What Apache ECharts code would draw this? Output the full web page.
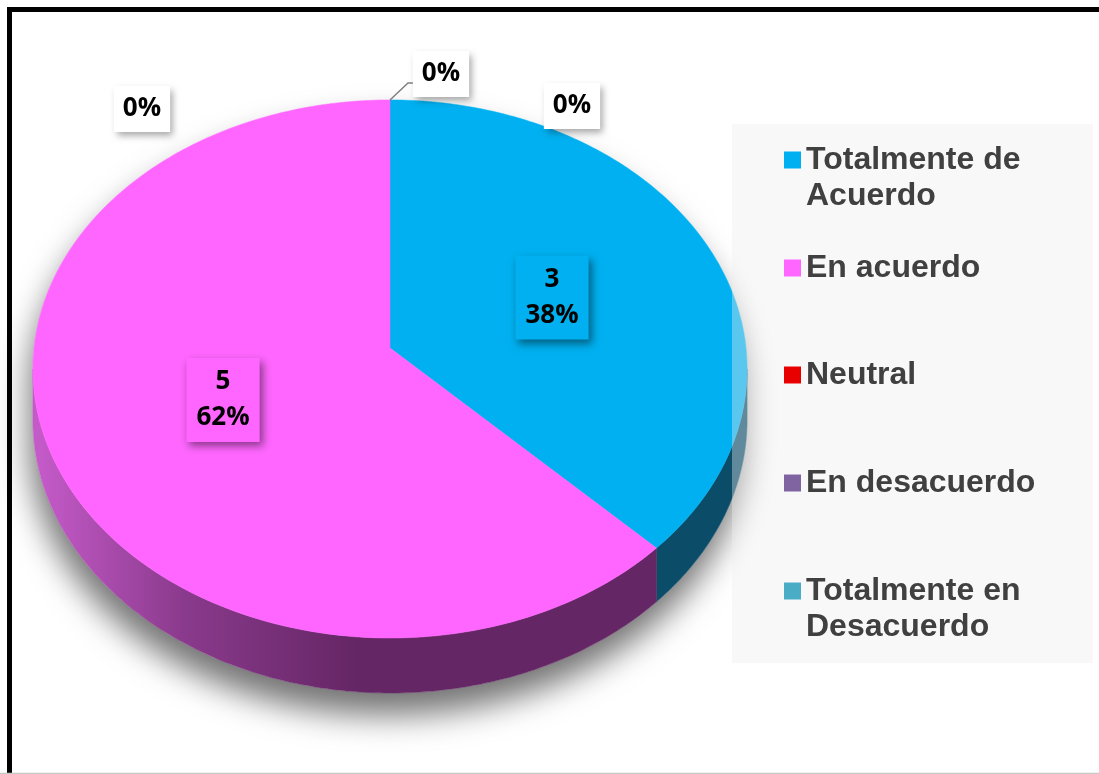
<!DOCTYPE html>
<html>
<head>
<meta charset="UTF-8">
<title></title>
<style>
  html, body { margin: 0; padding: 0; background: #fff; }
  #box { width: 1099px; height: 774px; }
</style>
</head>
<body>
<div id="box"></div>
<script src="https://cdn.jsdelivr.net/npm/echarts@6/dist/echarts.min.js"></script>
<script>
// data
const categories = ['Totalmente de Acuerdo', 'En acuerdo', 'Neutral', 'En desacuerdo', 'Totalmente en Desacuerdo'];
const counts = [3, 5, 0, 0, 0];
const legendLabels = ['Totalmente de\nAcuerdo', 'En acuerdo', 'Neutral', 'En desacuerdo', 'Totalmente en\nDesacuerdo'];

// styles
const topColors = ['#00b0f0', '#ff66ff', '#e80000', '#8064a2', '#4bacc6'];
const sideColors = [
  '#0b4c69',
  new echarts.graphic.LinearGradient(40, 0, 360, 0, [
    { offset: 0, color: '#c45ac8' },
    { offset: 0.45, color: '#8a3a8c' },
    { offset: 1, color: '#642664' }
  ], true),
  '#8a0000', '#4d3c62', '#2d6777'
];
const legendCenters = [160, 268, 375, 483, 591];
// where the 0% labels sit, relative to the point where their slice is
const zeroLabelOffsets = [null, null, [51, -26], [182, 6], [-248, 9]];

// pie projection (tilted disc, a bit of perspective)
const CX = 390, CY = 348, RX = 356, RY = 267.4, K = 0.078, DEPTH = 50.7;
const VIS0 = Math.acos(-K), VIS1 = 2 * Math.PI - VIS0;

function proj(theta, f, down) {
  const u = f * Math.sin(theta), v = -f * Math.cos(theta);
  const w = 1 - K * v;
  return [CX + RX * u / w, CY + (RY * v + (down ? DEPTH : 0)) / w];
}
function arc(a0, a1, down) {
  const pts = [];
  const n = Math.max(2, Math.ceil(Math.abs(a1 - a0) * 60));
  for (let s = 0; s <= n; s++) pts.push(proj(a0 + (a1 - a0) * s / n, 1, down));
  return pts;
}

const total = counts.reduce((a, b) => a + b, 0);

// percentages, largest remainder so they add to 100
const percents = (function () {
  const raw = counts.map(v => v / total * 100);
  const out = raw.map(Math.floor);
  let left = 100 - out.reduce((a, b) => a + b, 0);
  const order = raw.map((r, i) => [r - Math.floor(r), i]).sort((a, b) => b[0] - a[0]);
  for (let j = 0; j < left; j++) out[order[j][1]]++;
  return out;
})();

const labelFont = 'bold 26px "Open Sans"';

function makeRender(i) {
  return function (params, api) {
    const value = api.value(0);
    let before = 0;
    for (let j = 0; j < i; j++) before += counts[j];
    const a0 = before / total * 2 * Math.PI;
    const a1 = (before + value) / total * 2 * Math.PI;
    const children = [];

    if (i === 0) {
      const sil = arc(VIS1, 2 * Math.PI + VIS0, false).concat(arc(VIS0, VIS1, true));
      children.push({
        type: 'polygon', z2: 0,
        shape: { points: sil },
        style: { fill: '#fff', shadowBlur: 32, shadowOffsetY: 22, shadowOffsetX: -3, shadowColor: 'rgba(0,0,0,0.55)' }
      });
    }

    if (value > 0) {
      const s0 = Math.max(a0, VIS0), s1 = Math.min(a1, VIS1);
      if (s1 > s0) {
        children.push({
          type: 'polygon', z2: 1,
          shape: { points: arc(s0, s1, false).concat(arc(s0, s1, true).reverse()) },
          style: { fill: sideColors[i], stroke: sideColors[i], lineWidth: 0.5 }
        });
      }
      children.push({
        type: 'polygon', z2: 2,
        shape: { points: [[CX, CY]].concat(arc(a0, a1, false)) },
        style: { fill: topColors[i], stroke: topColors[i], lineWidth: 0.5 }
      });
      const p = proj((a0 + a1) / 2, 0.5, false);
      children.push({
        type: 'text', z2: 10, x: p[0], y: p[1],
        style: {
          text: value + '\n' + percents[i] + '%',
          font: labelFont, fill: '#000', align: 'center', verticalAlign: 'middle',
          lineHeight: 36, backgroundColor: topColors[i], padding: [6, 10, 6, 10],
          shadowColor: 'rgba(0,0,0,0.45)', shadowBlur: 8, shadowOffsetX: 3, shadowOffsetY: 4
        }
      });
    } else {
      const base = proj(a0, 1, false);
      const off = zeroLabelOffsets[i];
      const lx = base[0] + off[0], ly = base[1] + off[1];
      children.push({
        type: 'text', z2: 10, x: lx, y: ly,
        style: {
          text: percents[i] + '%',
          font: labelFont, fill: '#000', align: 'center', verticalAlign: 'middle',
          lineHeight: 36, backgroundColor: '#fff', padding: [5, 9, 5, 9],
          shadowColor: 'rgba(0,0,0,0.35)', shadowBlur: 7, shadowOffsetX: 3, shadowOffsetY: 4
        }
      });
      if (i === 2) {
        children.push({
          type: 'polyline', z2: 9,
          shape: { points: [base, [base[0] + 18, base[1] - 17], [lx - 26, base[1] - 17]] },
          style: { stroke: '#808080', lineWidth: 1.5, fill: null }
        });
      }
    }
    return { type: 'group', children: children };
  };
}

const legendText = {
  fontFamily: 'Liberation Sans', fontWeight: 'bold', fontSize: 32,
  color: '#404040', lineHeight: 36
};

const option = {
  animation: false,
  color: topColors,
  legend: categories.map((name, i) => {
    const multi = legendLabels[i].indexOf('\n') >= 0;
    return {
      data: [name],
      left: 784,
      top: legendCenters[i] - (multi ? 54 : 18),
      padding: 0,
      icon: 'rect',
      itemWidth: 17,
      itemHeight: 17,
      selectedMode: false,
      textStyle: legendText,
      formatter: () => (multi ? '\n' : '') + legendLabels[i]
    };
  }),
  graphic: [
    {
      type: 'rect', z: 3, silent: true,
      shape: { x: 732, y: 124, width: 361, height: 539 },
      style: { fill: 'rgba(236,236,236,0.38)' }
    },
    {
      type: 'rect', z: 20, silent: true,
      shape: { x: 9.5, y: 9.5, width: 1300, height: 1000 },
      style: { fill: null, stroke: '#000', lineWidth: 5 }
    },
    {
      type: 'line', z: 21, silent: true,
      shape: { x1: 0, y1: 773.5, x2: 1099, y2: 773.5 },
      style: { stroke: '#c8c8c8', lineWidth: 1.5 }
    }
  ],
  series: categories.map((name, i) => ({
    type: 'custom',
    name: name,
    coordinateSystem: 'none',
    silent: true,
    data: [counts[i]],
    renderItem: makeRender(i)
  }))
};

const myChart = echarts.init(document.getElementById('box'));
myChart.setOption(option);
</script>
</body>
</html>
